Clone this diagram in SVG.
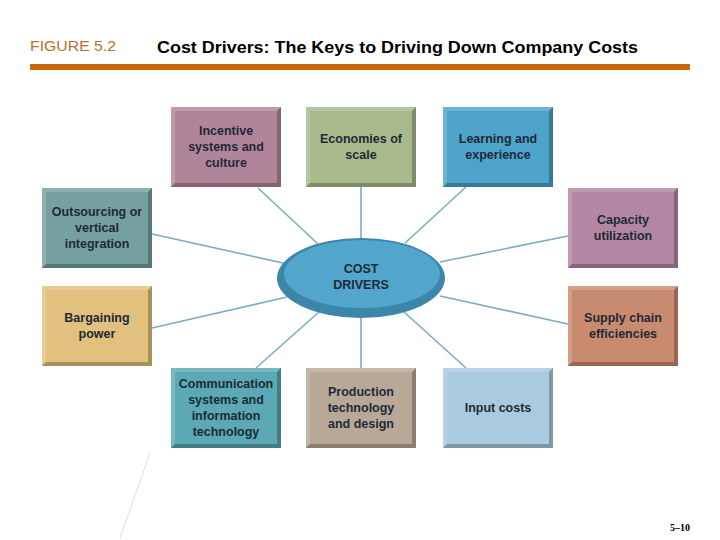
<svg xmlns="http://www.w3.org/2000/svg" width="720" height="540" viewBox="0 0 720 540">
<style>
.t{font-family:"Liberation Sans",Arial,sans-serif;font-size:12.5px;font-weight:bold;fill:#1e2a35;text-anchor:middle}
.c{stroke:#7aaec4;stroke-width:1.6;fill:none}
.hl{fill:#ffffff;opacity:0.18}
.sh{fill:#000000;opacity:0.25}
</style>
<defs>
<g id="bevel">
<polygon class="hl" points="0,0 110,0 106,4 4,4"/>
<polygon class="hl" points="0,0 4,4 4,76 0,80"/>
<polygon class="sh" points="0,80 110,80 106,76 4,76"/>
<polygon class="sh" points="110,0 110,80 106,76 106,4"/>
</g>
</defs>
<rect width="720" height="540" fill="#ffffff"/>
<text x="30" y="51" font-family="'Liberation Sans Narrow','Liberation Sans',Arial,sans-serif" font-size="15" fill="#b9702a" textLength="86" lengthAdjust="spacingAndGlyphs">FIGURE 5.2</text>
<text x="157" y="53" font-family="'Liberation Sans',Arial,sans-serif" font-size="17" font-weight="bold" fill="#000" textLength="481" lengthAdjust="spacingAndGlyphs">Cost Drivers: The Keys to Driving Down Company Costs</text>
<rect x="30" y="64" width="660" height="6" fill="#c8670a"/>
<line x1="150" y1="453" x2="120" y2="538" stroke="#cfe3ea" stroke-width="1"/>
<g id="connectors">
<line class="c" x1="258" y1="188" x2="318" y2="244"/>
<line class="c" x1="361" y1="187" x2="361" y2="238"/>
<line class="c" x1="466" y1="187" x2="405" y2="243"/>
<line class="c" x1="152" y1="234" x2="283" y2="263"/>
<line class="c" x1="568" y1="236" x2="440" y2="262"/>
<line class="c" x1="152" y1="328" x2="287" y2="297"/>
<line class="c" x1="568" y1="324" x2="440" y2="296"/>
<line class="c" x1="256" y1="368" x2="320" y2="311"/>
<line class="c" x1="361" y1="368" x2="361" y2="317"/>
<line class="c" x1="466" y1="368" x2="404" y2="312"/>
</g>
<g id="cost-drivers">
<ellipse cx="361" cy="278" rx="84" ry="40" fill="#3b86a9"/>
<ellipse cx="362" cy="274" rx="78" ry="34" fill="#52a6cb"/>
<text class="t" x="361" y="273">COST</text>
<text class="t" x="361" y="289">DRIVERS</text>
</g>
<g id="incentive" transform="translate(171,107)">
<rect width="110" height="80" fill="#b0859a"/><use href="#bevel"/>
<text class="t" x="55" y="28">Incentive</text>
<text class="t" x="55" y="44">systems and</text>
<text class="t" x="55" y="60">culture</text>
</g>
<g id="economies" transform="translate(306,107)">
<rect width="110" height="80" fill="#a8ba8b"/><use href="#bevel"/>
<text class="t" x="55" y="36">Economies of</text>
<text class="t" x="55" y="52">scale</text>
</g>
<g id="learning" transform="translate(443,107)">
<rect width="110" height="80" fill="#4ea3ca"/><use href="#bevel"/>
<text class="t" x="55" y="36">Learning and</text>
<text class="t" x="55" y="52">experience</text>
</g>
<g id="outsourcing" transform="translate(42,188)">
<rect width="110" height="80" fill="#75a09f"/><use href="#bevel"/>
<text class="t" x="55" y="28">Outsourcing or</text>
<text class="t" x="55" y="44">vertical</text>
<text class="t" x="55" y="60">integration</text>
</g>
<g id="capacity" transform="translate(568,188)">
<rect width="110" height="80" fill="#b387a1"/><use href="#bevel"/>
<text class="t" x="55" y="36">Capacity</text>
<text class="t" x="55" y="52">utilization</text>
</g>
<g id="bargaining" transform="translate(42,286)">
<rect width="110" height="80" fill="#e1c17d"/><use href="#bevel"/>
<text class="t" x="55" y="36">Bargaining</text>
<text class="t" x="55" y="52">power</text>
</g>
<g id="supply" transform="translate(568,286)">
<rect width="110" height="80" fill="#c98b70"/><use href="#bevel"/>
<text class="t" x="55" y="36">Supply chain</text>
<text class="t" x="55" y="52">efficiencies</text>
</g>
<g id="communication" transform="translate(171,368)">
<rect width="110" height="80" fill="#5aa9b4"/><use href="#bevel"/>
<text class="t" x="55" y="20">Communication</text>
<text class="t" x="55" y="36">systems and</text>
<text class="t" x="55" y="52">information</text>
<text class="t" x="55" y="68">technology</text>
</g>
<g id="production" transform="translate(306,368)">
<rect width="110" height="80" fill="#b8a898"/><use href="#bevel"/>
<text class="t" x="55" y="28">Production</text>
<text class="t" x="55" y="44">technology</text>
<text class="t" x="55" y="60">and design</text>
</g>
<g id="input" transform="translate(443,368)">
<rect width="110" height="80" fill="#a9cbdf"/><use href="#bevel"/>
<text class="t" x="55" y="44">Input costs</text>
</g>
<text x="690" y="531" font-family="'Liberation Serif','Times New Roman',serif" font-size="10" font-weight="bold" fill="#000" text-anchor="end">5–10</text>
</svg>
